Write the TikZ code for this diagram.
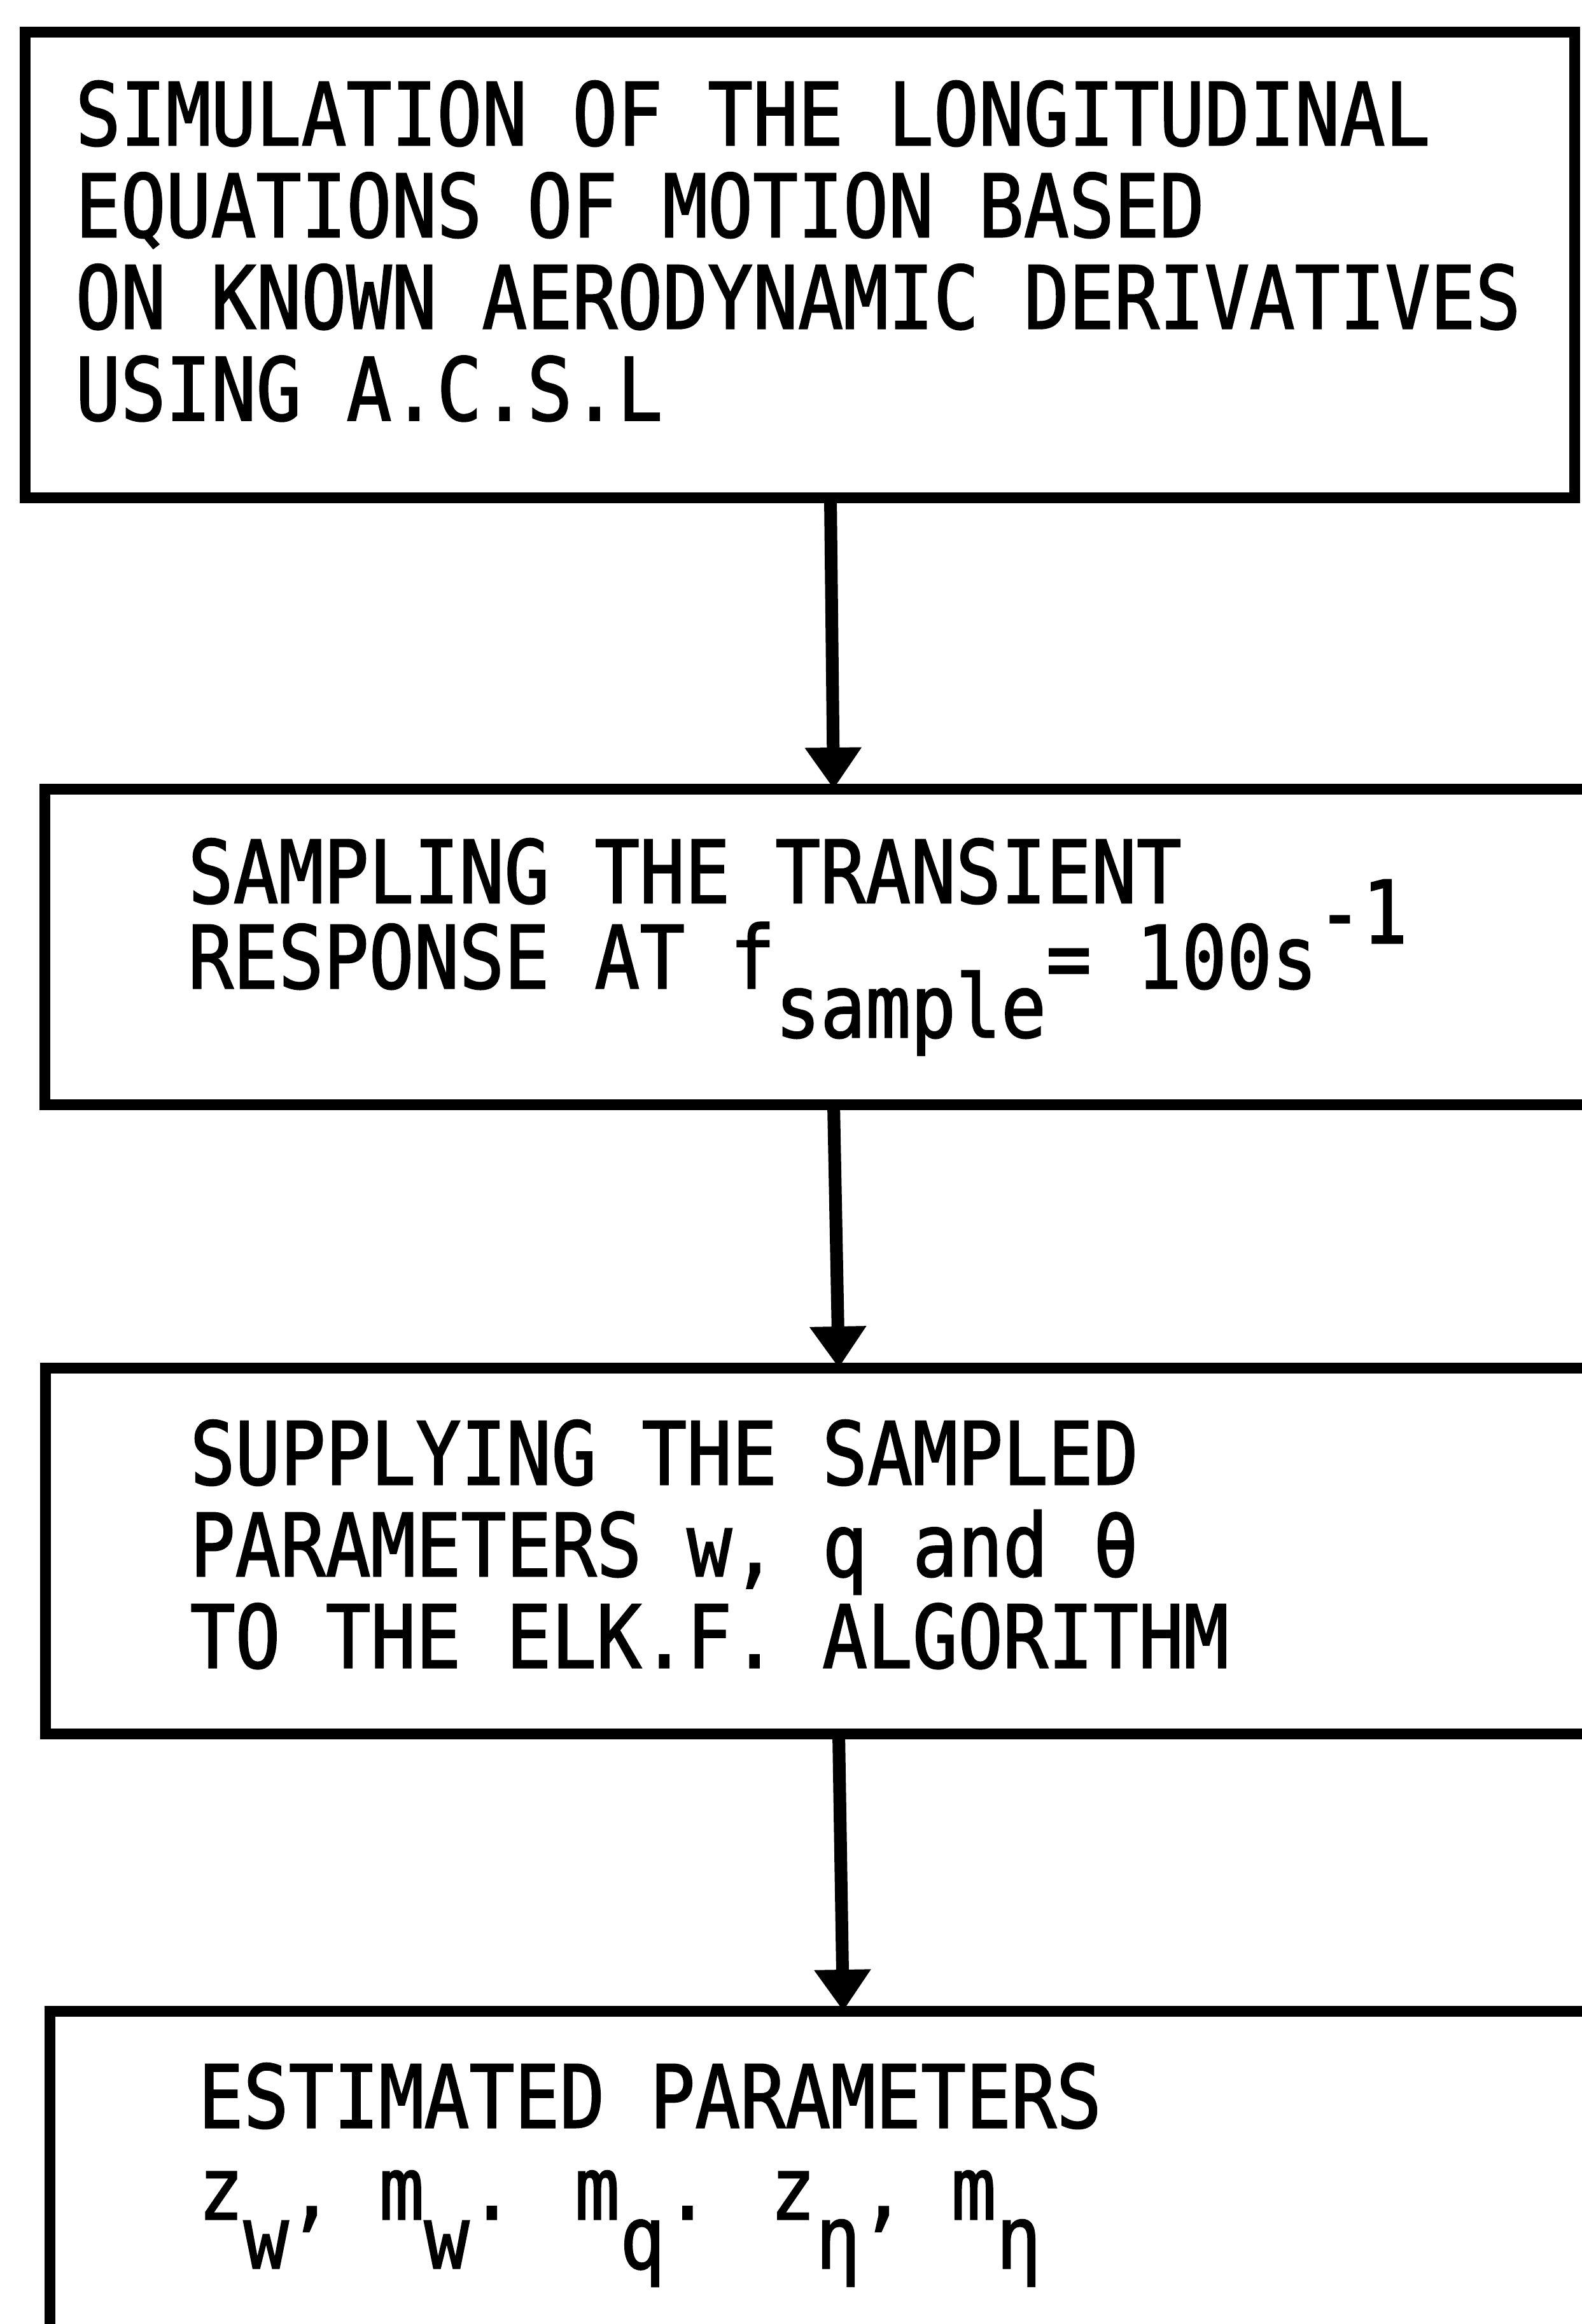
\documentclass[tikz,border=0pt]{standalone}
\usepackage{fontspec}
\newfontfamily\typewriter[FakeStretch=0.86, FakeBold=1.5]{DejaVu Sans Mono}
\usetikzlibrary{arrows.meta, positioning}

% shifted pieces of the typed lines (keep their width, no height)
\newcommand{\dropped}[1]{\raisebox{-0.77cm}[0pt][0pt]{#1}}
\newcommand{\lifted}[1]{\raisebox{0.71cm}[0pt][0pt]{#1}}

\begin{document}
\begin{tikzpicture}[
  box/.style={rectangle, draw, line width=1.7mm, outer sep=0pt,
              anchor=north west},
  txt/.style={font=\typewriter\fontsize{39pt}{41pt}\selectfont,
              align=left, inner sep=0pt,
              execute at begin node=\strut},
  arr/.style={-{Triangle[length=6.5mm, width=8.5mm]}, line width=2mm}
]
  \useasboundingbox (0,0) rectangle (24.86,-36.53);

  % Boxes (the lower three run off the right edge)
  \node[box, minimum width=24.34cm, minimum height=7.32cm] (sim)  at (0.40,-0.50)  {};
  \node[box, minimum width=24.80cm, minimum height=4.96cm] (samp) at (0.70,-12.40) {};
  \node[box, minimum width=24.94cm, minimum height=5.75cm] (supp) at (0.71,-21.50) {};
  \node[box, minimum width=24.92cm, minimum height=6.00cm] (est)  at (0.79,-31.61) {};

  % Typed texts
  \node[txt, below right=0.76cm and 0.78cm of sim.north west] (simtxt)
    {SIMULATION OF THE LONGITUDINAL\\EQUATIONS OF MOTION BASED\\ON KNOWN AERODYNAMIC DERIVATIVES\\USING A.C.S.L};
  \node[txt, below right=0.77cm and 2.25cm of samp.north west] (samptxt)
    {SAMPLING THE TRANSIENT\\[-1mm]RESPONSE AT f\dropped{sample}= 100s\lifted{-1}};
  \node[txt, below right=0.81cm and 2.27cm of supp.north west] (supptxt)
    {SUPPLYING THE SAMPLED\\PARAMETERS w, q and θ\\TO THE ELK.F. ALGORITHM};
  \node[txt, below right=0.81cm and 2.32cm of est.north west] (esttxt)
    {ESTIMATED PARAMETERS\\z\dropped{w}, m\dropped{w}. m\dropped{q}. z\dropped{η}, m\dropped{η}};

  % Arrows
  \draw[arr] ([xshift=4.8mm]sim.south) -- (samp.north);
  \draw[arr] (samp.south) -- (supp.north);
  \draw[arr] (supp.south) -- (est.north);
\end{tikzpicture}
\end{document}
